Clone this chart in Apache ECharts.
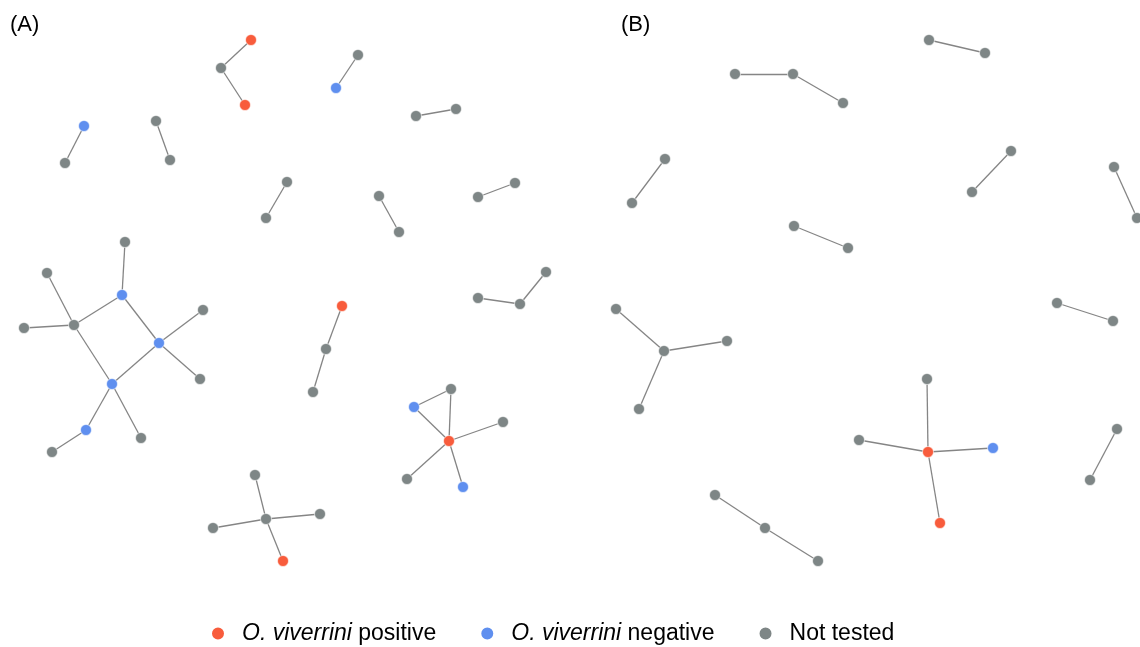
<!DOCTYPE html>
<html>
<head>
<meta charset="utf-8">
<style>
html,body{margin:0;padding:0;background:#fff;}
#chart{width:1140px;height:647px;}
</style>
<script src="https://cdn.jsdelivr.net/npm/echarts@6/dist/echarts.min.js"></script>
</head>
<body>
<div id="chart"></div>
<script>
// Status categories (legend)
const categories = ['positive', 'negative', 'untested'];
const categoryColors = ['#F85C3C', '#5F8FEF', '#7E8686'];
const panelLabels = ['(A)', '(B)'];

// Node positions (pixel space) and their status (0 pos, 1 neg, 2 not tested)
const nodeX = [
  // Panel A
  221, 251, 245,            // 0-2
  336, 358,                 // 3-4
  416, 456,                 // 5-6
  266, 287,                 // 7-8
  379, 399,                 // 9-10
  478, 515,                 // 11-12
  84, 65,                   // 13-14
  156, 170,                 // 15-16
  125, 122, 47, 74, 24, 159, 203, 200, 112, 141, 86, 52, // 17-28
  342, 326, 313,            // 29-31
  255, 266, 213, 320, 283,  // 32-36
  478, 520, 546,            // 37-39
  451, 414, 449, 503, 407, 463, // 40-45
  // Panel B
  929, 985,                 // 46-47
  735, 793, 843,            // 48-50
  665, 632,                 // 51-52
  1011, 972,                // 53-54
  794, 848,                 // 55-56
  1114, 1137,               // 57-58
  1057, 1113,               // 59-60
  1117, 1090,               // 61-62
  664, 616, 727, 639,       // 63-66
  928, 927, 859, 993, 940,  // 67-71
  715, 765, 818             // 72-74
];
const nodeY = [
  68, 40, 105,
  88, 55,
  116, 109,
  218, 182,
  196, 232,
  197, 183,
  126, 163,
  121, 160,
  242, 295, 273, 325, 328, 343, 310, 379, 384, 438, 430, 452,
  306, 349, 392,
  475, 519, 528, 514, 561,
  298, 304, 272,
  389, 407, 441, 422, 479, 487,
  40, 53,
  74, 74, 103,
  159, 203,
  151, 192,
  226, 248,
  167, 218,
  303, 321,
  429, 480,
  351, 309, 341, 409,
  452, 379, 440, 448, 523,
  495, 528, 561
];
const nodeGroup = [
  2, 0, 0,
  1, 2,
  2, 2,
  2, 2,
  2, 2,
  2, 2,
  1, 2,
  2, 2,
  2, 1, 2, 2, 2, 1, 2, 2, 1, 2, 1, 2,
  0, 2, 2,
  2, 2, 2, 2, 0,
  2, 2, 2,
  2, 1, 0, 2, 2, 1,
  2, 2,
  2, 2, 2,
  2, 2,
  2, 2,
  2, 2,
  2, 2,
  2, 2,
  2, 2,
  2, 2, 2, 2,
  0, 2, 2, 1, 0,
  2, 2, 2
];
// Edges as pairs of node indices
const edges = [
  [0,1],[0,2],
  [3,4],
  [5,6],
  [7,8],
  [9,10],
  [11,12],
  [13,14],
  [15,16],
  [17,18],[18,20],[18,22],[20,19],[20,21],[20,25],[22,23],[22,24],[22,25],[25,26],[25,27],[27,28],
  [29,30],[30,31],
  [32,33],[33,34],[33,35],[33,36],
  [37,38],[38,39],
  [41,40],[40,42],[41,42],[42,43],[42,44],[42,45],
  [46,47],
  [48,49],[49,50],
  [51,52],
  [53,54],
  [55,56],
  [57,58],
  [59,60],
  [61,62],
  [63,64],[63,65],[63,66],
  [67,68],[67,69],[67,70],[67,71],
  [72,73],[73,74]
];

const chart = echarts.init(document.getElementById('chart'), null, {renderer: 'canvas'});

const nodes = nodeX.map((x, i) => ({
  name: 'n' + i,
  value: [x, nodeY[i]],
  category: nodeGroup[i]
}));
const links = edges.map(e => ({source: 'n' + e[0], target: 'n' + e[1]}));

const FONT = 'Liberation Sans, Arial, sans-serif';
const option = {
  backgroundColor: '#ffffff',
  animation: false,
  title: [
    {text: panelLabels[0], left: 5, top: 9, textStyle: {fontFamily: FONT, fontSize: 22, fontWeight: 'normal', color: '#000'}},
    {text: panelLabels[1], left: 616, top: 9, textStyle: {fontFamily: FONT, fontSize: 22, fontWeight: 'normal', color: '#000'}}
  ],
  grid: {left: 0, right: 0, top: 0, bottom: 0},
  xAxis: {type: 'value', min: 0, max: 1140, show: false},
  yAxis: {type: 'value', min: 0, max: 647, inverse: true, show: false},
  legend: {
    data: categories,
    left: 205,
    top: 617,
    icon: 'circle',
    itemWidth: 38,
    itemHeight: 14,
    itemGap: 43,
    selectedMode: false,
    formatter: function (name) {
      if (name === 'positive') return '{i|O. viverrini} {n|positive}';
      if (name === 'negative') return '{i|O. viverrini} {n|negative}';
      return '{n|Not tested}';
    },
    textStyle: {
      color: '#000',
      fontFamily: FONT,
      fontSize: 23,
      rich: {
        i: {fontStyle: 'italic', fontSize: 23, fontFamily: FONT, color: '#000'},
        n: {fontSize: 23, fontFamily: FONT, color: '#000'}
      }
    }
  },
  series: [{
    type: 'graph',
    coordinateSystem: 'cartesian2d',
    layout: 'none',
    symbol: 'circle',
    symbolSize: 11,
    categories: categories.map((c, i) => ({name: c, itemStyle: {color: categoryColors[i]}})),
    data: nodes,
    links: links,
    itemStyle: {borderColor: '#ffffff', borderWidth: 0.6},
    lineStyle: {color: '#858585', width: 1.3, opacity: 1, curveness: 0},
    label: {show: false},
    emphasis: {disabled: true},
    z: 2
  }]
};
chart.setOption(option);
</script>
</body>
</html>
